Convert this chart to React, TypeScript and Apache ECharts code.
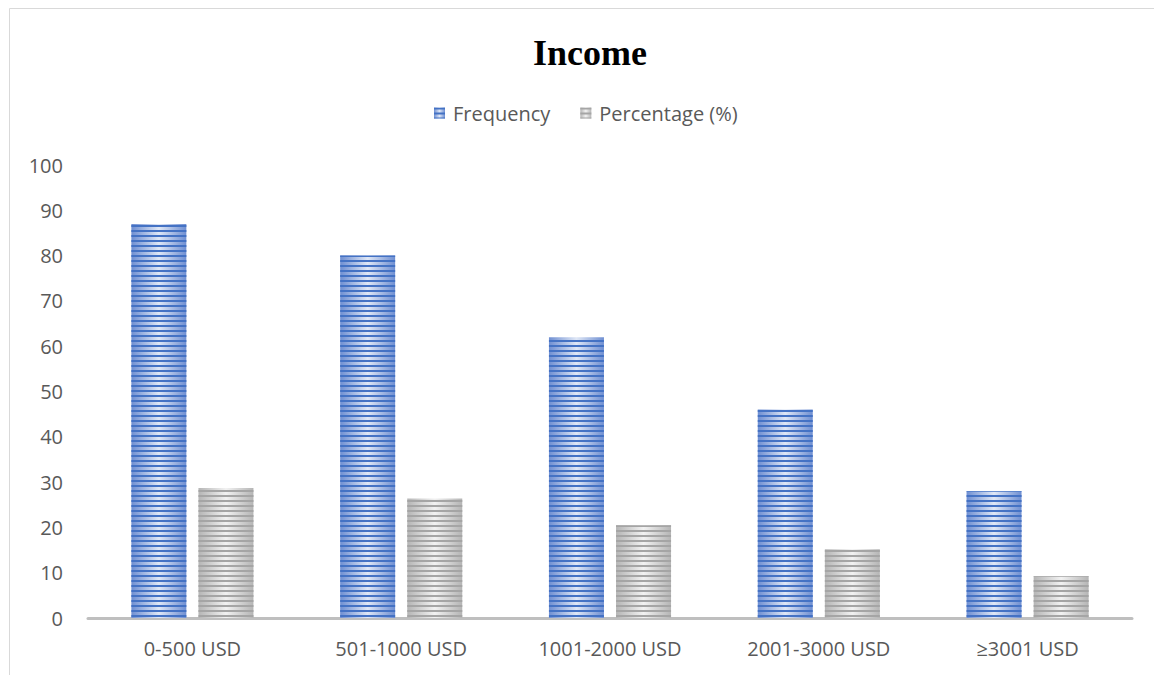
import React, { useEffect, useRef } from "react";
import * as echarts from "echarts";

const categories = ["0-500 USD", "501-1000 USD", "1001-2000 USD", "2001-3000 USD", "≥3001 USD"];
const frequency = [87, 80, 62, 46, 28];
const percentage = [28.7, 26.4, 20.5, 15.2, 9.2];
const seriesNames = ["Frequency", "Percentage (%)"];

const FONT = "'Open Sans', 'Noto Sans', sans-serif";
const TEXT = "#595959";

// Horizontal-striped bar fill: a soft edge-to-centre gradient with solid stripes on top.
function stripedStyle(edge: string, mid: string, stripe: string) {
  return {
    color: new echarts.graphic.LinearGradient(0, 0, 1, 0, [
      { offset: 0, color: edge },
      { offset: 0.5, color: mid },
      { offset: 1, color: edge },
    ]),
    decal: {
      symbol: "rect",
      symbolSize: 1,
      dashArrayX: [1, 0],
      dashArrayY: [2, 3],
      rotation: 0,
      color: stripe,
    },
  };
}

export default function App() {
  const ref = useRef<HTMLDivElement>(null);

  useEffect(() => {
    if (!ref.current) return;
    const chart = echarts.init(ref.current, null, { renderer: "svg" });
    chart.setOption({
      animation: false,
      backgroundColor: "#ffffff",
      title: {
        text: "Income",
        left: 585,
        top: 30,
        textAlign: "center",
        textStyle: {
          fontFamily: "'Liberation Serif', 'Times New Roman', serif",
          fontWeight: "bold",
          fontSize: 36,
          color: "#000000",
        },
      },
      legend: {
        data: seriesNames,
        left: 429,
        top: 98,
        itemWidth: 11,
        itemHeight: 11,
        itemGap: 30,
        icon: "rect",
        textStyle: {
          fontFamily: FONT,
          fontSize: 20,
          color: TEXT,
          padding: [0, 0, 0, 3],
        },
      },
      graphic: [
        {
          type: "rect",
          shape: { x: 9.5, y: 8.5, width: 1300, height: 800 },
          style: { fill: "none", stroke: "#d9d9d9", lineWidth: 1 },
          silent: true,
        },
      ],
      grid: { left: 88, right: 22, top: 165, bottom: 57 },
      xAxis: {
        type: "category",
        data: categories,
        axisLine: { lineStyle: { color: "#bfbfbf", width: 3 } },
        axisTick: { show: false },
        axisLabel: { color: TEXT, fontFamily: FONT, fontSize: 20, margin: 20 },
      },
      yAxis: {
        type: "value",
        min: 0,
        max: 100,
        interval: 10,
        axisLine: { show: false },
        axisTick: { show: false },
        splitLine: { show: false },
        axisLabel: { color: TEXT, fontFamily: FONT, fontSize: 20, margin: 25 },
      },
      series: [
        {
          name: seriesNames[0],
          type: "bar",
          data: frequency,
          barWidth: 55,
          barGap: "22%",
          itemStyle: stripedStyle("#6f8fd2", "#dfe7f6", "#4472c4"),
        },
        {
          name: seriesNames[1],
          type: "bar",
          data: percentage,
          barWidth: 55,
          barGap: "22%",
          itemStyle: stripedStyle("#b5b5b5", "#f2f2f2", "#a5a5a5"),
        },
      ],
    });
    return () => chart.dispose();
  }, []);

  return (
    <div
      ref={ref}
      style={{ position: "absolute", left: 0, top: 0, width: 1154, height: 675 }}
    />
  );
}
